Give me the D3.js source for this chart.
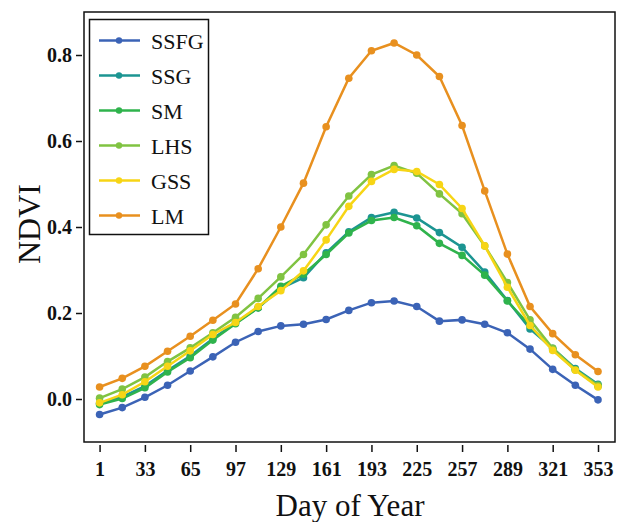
<!DOCTYPE html>
<html><head><meta charset="utf-8">
<script src="https://cdn.jsdelivr.net/npm/d3@7"></script>
<style>body{margin:0;background:#fff}svg{display:block}</style>
</head><body>
<script>
const days = [1,17,33,49,65,81,97,113,129,145,161,177,193,209,225,241,257,273,289,305,321,337,353];
const SSFG = [-0.036,-0.020,0.004,0.032,0.065,0.098,0.132,0.157,0.170,0.174,0.185,0.206,0.224,0.228,0.215,0.181,0.184,0.174,0.154,0.116,0.069,0.032,-0.002];
const SSG  = [-0.010,0.005,0.030,0.066,0.100,0.140,0.177,0.212,0.257,0.282,0.340,0.389,0.422,0.434,0.421,0.387,0.353,0.295,0.229,0.163,0.118,0.071,0.034];
const SM   = [-0.013,0.001,0.026,0.063,0.096,0.137,0.175,0.212,0.262,0.290,0.336,0.386,0.415,0.422,0.403,0.362,0.334,0.288,0.228,0.170,0.115,0.068,0.030];
const LHS  = [0.002,0.023,0.051,0.087,0.119,0.154,0.190,0.234,0.284,0.336,0.405,0.472,0.522,0.543,0.525,0.477,0.431,0.356,0.271,0.184,0.118,0.068,0.032];
const GSS  = [-0.009,0.010,0.040,0.076,0.112,0.150,0.178,0.215,0.252,0.298,0.370,0.448,0.506,0.534,0.529,0.499,0.443,0.356,0.260,0.171,0.113,0.067,0.028];
const LM   = [0.028,0.048,0.076,0.111,0.146,0.183,0.221,0.303,0.400,0.502,0.633,0.746,0.810,0.828,0.800,0.750,0.636,0.484,0.337,0.215,0.152,0.103,0.064];
const seriesNames = ["SSFG","SSG","SM","LHS","GSS","LM"];
const seriesColors = ["#3b63b6","#1c9592","#2fb34c","#80c342","#f7d515","#e8901f"];
const xTicks = [1,33,65,97,129,161,193,225,257,289,321,353];
const yTicks = [0.0,0.2,0.4,0.6,0.8];

const seriesData = [SSFG,SSG,SM,LHS,GSS,LM];
const W = 617, H = 522;
const L = 84, T = 12, R = 615, B = 442;
const svg = d3.select("body").append("svg").attr("width",W).attr("height",H);
const x = d3.scaleLinear().domain([-10,365]).range([L,R]);
const y = d3.scaleLinear().domain([-0.1,0.9]).range([B,T]);
const serif = "'Liberation Serif','Times New Roman',serif";

// axes
const xa = svg.append("g").attr("transform",`translate(0,${B+3})`)
  .call(d3.axisBottom(x).tickValues(xTicks).tickSize(7).tickPadding(10).tickFormat(d3.format("d")));
const ya = svg.append("g").attr("transform",`translate(${L-2},0)`)
  .call(d3.axisLeft(y).tickValues(yTicks).tickSize(6).tickPadding(4).tickFormat(d3.format(".1f")));
[xa,ya].forEach(g=>{
  g.select(".domain").remove();
  g.selectAll(".tick line").attr("stroke","#111").attr("stroke-width",1.5);
  g.selectAll(".tick text").attr("font-family",serif).attr("font-weight","bold").attr("font-size",20).attr("fill","#111");
});

// frame
svg.append("rect").attr("x",L).attr("y",T).attr("width",R-L).attr("height",B-T)
  .attr("fill","none").attr("stroke","#111").attr("stroke-width",1.5);

// lines
const line = d3.line().x((d,i)=>x(days[i])).y(d=>y(d));
seriesData.forEach((s,k)=>{
  const g = svg.append("g");
  g.append("path").attr("d",line(s)).attr("fill","none").attr("stroke",seriesColors[k]).attr("stroke-width",2.5);
  g.selectAll("circle").data(s).enter().append("circle")
    .attr("cx",(d,i)=>x(days[i])).attr("cy",d=>y(d)).attr("r",3.8).attr("fill",seriesColors[k]);
});

// legend
const lg = svg.append("g");
lg.append("rect").attr("x",89.5).attr("y",19.5).attr("width",119).attr("height",215)
  .attr("fill","#fff").attr("stroke","#111").attr("stroke-width",1.5);
seriesNames.forEach((n,k)=>{
  const yy = 40.5 + k*35;
  lg.append("line").attr("x1",99).attr("x2",140).attr("y1",yy).attr("y2",yy).attr("stroke",seriesColors[k]).attr("stroke-width",2.5);
  lg.append("circle").attr("cx",119).attr("cy",yy).attr("r",3.2).attr("fill",seriesColors[k]);
  lg.append("text").attr("x",151).attr("y",yy+8).text(n).attr("font-family",serif).attr("font-size",22).attr("fill","#111");
});

// titles
svg.append("text").attr("x",350).attr("y",516).attr("text-anchor","middle").attr("font-family",serif)
  .attr("font-size",31).attr("fill","#111").text("Day of Year");
svg.append("text").attr("transform","translate(40,224) rotate(-90)").attr("text-anchor","middle").attr("font-family",serif)
  .attr("font-size",32).attr("fill","#111").text("NDVI");
</script>
</body></html>
